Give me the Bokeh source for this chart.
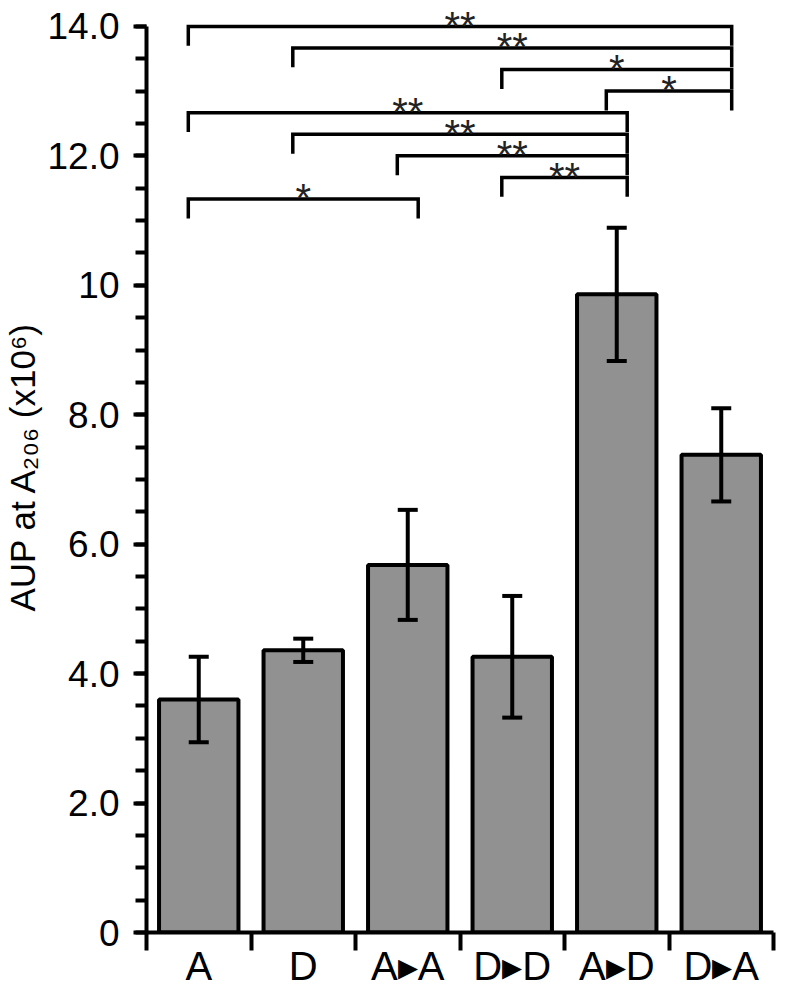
from bokeh.plotting import figure
from bokeh.models import Range1d, FixedTicker
from bokeh.core.properties import value
from bokeh.embed import file_html
from bokeh.resources import INLINE

# ---- data ----
categories = ["A", "D", "A▸A", "D▸D", "A▸D", "D▸A"]
means = [3.60, 4.36, 5.68, 4.26, 9.86, 7.38]
errors = [0.66, 0.18, 0.85, 0.94, 1.03, 0.72]

y_ticks = [0, 2, 4, 6, 8, 10, 12, 14]
y_tick_labels = ["0", "2.0", "4.0", "6.0", "8.0", "10", "12.0", "14.0"]

cmp_left = ["A", "D", "D▸D", "A▸D", "A", "D", "A▸A", "D▸D", "A"]
cmp_right = ["D▸A", "D▸A", "D▸A", "D▸A", "A▸D", "A▸D", "A▸D", "A▸D", "A▸A"]
cmp_level = [14.0, 13.667, 13.333, 13.0, 12.667, 12.333, 12.0, 11.667, 11.333]
cmp_label = ["**", "**", "*", "*", "**", "**", "**", "**", "*"]

FONT = "Liberation Sans"

centers = [i + 0.5 for i in range(len(categories))]
pos = {c: i + 0.5 for i, c in enumerate(categories)}

p = figure(width=776, height=990, output_backend="svg", toolbar_location=None,
           x_range=Range1d(0, len(categories)), y_range=Range1d(0, 14.40),
           min_border_left=146, min_border_right=3, min_border_top=0, min_border_bottom=0)
p.outline_line_color = None
p.grid.visible = False
p.background_fill_color = "white"
p.border_fill_color = "white"

# bars
p.vbar(x=centers, top=means, width=0.76, bottom=0,
       fill_color="#919191", line_color="black", line_width=4)

# error bars
lo = [m - e for m, e in zip(means, errors)]
hi = [m + e for m, e in zip(means, errors)]
p.segment(x0=centers, y0=lo, x1=centers, y1=hi, line_color="black", line_width=4)
p.scatter(x=centers + centers, y=lo + hi, marker="dash", size=20,
          line_color="black", line_width=4)

# significance brackets
drop = 0.3
off = 0.1
xs, ys, tx, ty = [], [], [], []
for l, r, lvl in zip(cmp_left, cmp_right, cmp_level):
    xl = pos[l] - off
    xr = pos[r] + off
    xs.append([xl, xl, xr, xr])
    ys.append([lvl - drop, lvl, lvl, lvl - drop])
    tx.append((xl + xr) / 2)
    ty.append(lvl + 0.01)
p.multi_line(xs=xs, ys=ys, line_color="black", line_width=3.5, line_join="miter")
p.text(x=tx, y=ty, text=cmp_label, text_font=value(FONT), text_font_size="40px",
       text_align="center", text_baseline="alphabetic", text_color="#222222")

# y axis
ya = p.yaxis[0]
ya.bounds = (0, 14)
ya.ticker = FixedTicker(ticks=y_ticks,
                        minor_ticks=[i * 0.5 for i in range(29)])
ya.major_label_overrides = {t: s for t, s in zip(y_ticks, y_tick_labels)}
ya.axis_line_width = 4
ya.axis_line_color = "black"
ya.major_tick_line_width = 4
ya.minor_tick_line_width = 4
ya.major_tick_out = 13
ya.major_tick_in = 0
ya.minor_tick_out = 11
ya.minor_tick_in = 0
ya.major_label_text_font = FONT
ya.major_label_text_font_size = "37px"
ya.major_label_text_color = "black"
ya.major_label_standoff = 14
ya.axis_label = "AUP at A₂₀₆ (x10⁶)"
ya.axis_label_text_font = FONT
ya.axis_label_text_font_size = "35px"
ya.axis_label_text_font_style = "normal"
ya.axis_label_text_color = "black"
ya.axis_label_standoff = 2

# x axis
xa = p.xaxis[0]
xa.ticker = FixedTicker(ticks=centers, minor_ticks=list(range(len(categories) + 1)))
xa.major_label_overrides = {c: s for c, s in zip(centers, categories)}
xa.axis_line_width = 4
xa.axis_line_color = "black"
xa.major_tick_out = 0
xa.major_tick_in = 0
xa.minor_tick_out = 18
xa.minor_tick_in = 0
xa.minor_tick_line_width = 4
xa.minor_tick_line_color = "black"
xa.major_label_text_font = FONT
xa.major_label_text_font_size = "40px"
xa.major_label_text_color = "black"
xa.major_label_standoff = -7

open("out.html", "w").write(file_html(p, INLINE))
